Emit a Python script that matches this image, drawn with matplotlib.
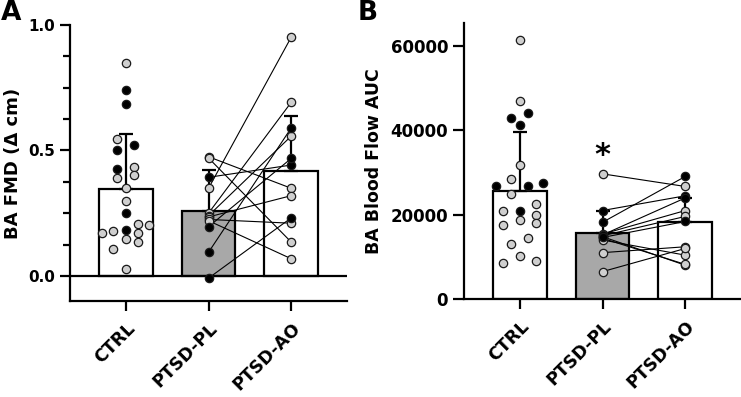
import numpy as np
import matplotlib.pyplot as plt
from matplotlib.ticker import MultipleLocator

plt.rcParams['font.family'] = 'DejaVu Sans'
plt.rcParams['font.weight'] = 'bold'

groups = ['CTRL', 'PTSD-PL', 'PTSD-AO']

# panel A: FMD
fmd_mean = [0.345, 0.258, 0.418]
fmd_sd = [0.220, 0.164, 0.219]
ctrl_fmd = [0.850, 0.741, 0.684, 0.545, 0.521, 0.502, 0.436, 0.425, 0.402, 0.389, 0.349, 0.299,
            0.250, 0.206, 0.202, 0.183, 0.179, 0.173, 0.170, 0.146, 0.137, 0.106, 0.027]
ctrl_fmd_black = [0, 1, 1, 0, 1, 1, 0, 1, 0, 0, 0, 0, 1, 0, 0, 1, 0, 0, 0, 0, 0, 0, 0]
ctrl_fmd_slot = [0, 0, 0, -1, 1, -1, 1, -1, 1, -1, 0, 0, 0, 1.4, 2.7, 0, -1.4, -2.7, 1.4, 0, 1.4, -1.4, 0]
pl_fmd = [0.475, 0.470, 0.393, 0.349, 0.250, 0.240, 0.235, 0.225, 0.220, 0.196, 0.094, -0.009]
ao_fmd = [0.349, 0.134, 0.442, 0.953, 0.693, 0.558, 0.320, 0.210, 0.068, 0.469, 0.591, 0.232]
pair_fmd_black = [0, 0, 1, 0, 0, 0, 0, 0, 0, 1, 1, 1]

# panel B: blood flow AUC
auc_mean = [25700, 15600, 18200]
auc_sd = [13900, 5400, 5800]
ctrl_auc = [61500, 46900, 44200, 42900, 41200, 31900, 28500, 27500, 26900, 26700, 24800, 22500,
            21000, 21000, 20000, 18800, 18000, 17500, 14400, 13100, 10200, 8900, 8500]
ctrl_auc_black = [0, 0, 1, 1, 1, 0, 0, 1, 1, 1, 0, 0, 0, 1, 0, 0, 0, 0, 0, 0, 0, 0, 0]
ctrl_auc_slot = [0, 0, 1, -1, 0, 0, -1, 2.8, -2.8, 1, -1, 2, -2, 0, 2, 0, 2, -2, 1, -1, 0, 2, -2]
pl_auc = [29700, 15400, 15000, 14800, 14400, 14000, 11000, 6500, 21000, 18200, 15200, 14600]
ao_auc = [26700, 21000, 19600, 8000, 8200, 10400, 12400, 12000, 24500, 29100, 24000, 18400]
pair_auc_black = [0, 0, 0, 0, 0, 0, 0, 0, 1, 1, 1, 1]

GRAY_PT = '#cfcfcf'
BAR_GRAY = '#a8a8a8'


def dot(ax, x, y, black):
    ax.plot(x, y, 'o', ms=6, mfc='black' if black else GRAY_PT, mec='#1a1a1a',
            mew=0.9, zorder=6, clip_on=False)


def panel(ax, means, sds, ctrl, ctrl_black, ctrl_slot, slot_w, pl, ao, pair_black):
    x = np.arange(3)
    ax.bar(x, means, width=0.65, color=['white', BAR_GRAY, 'white'], edgecolor='black',
           linewidth=1.6, zorder=2)
    ax.errorbar(x, means, yerr=[np.zeros(3), sds], fmt='none', ecolor='black',
                elinewidth=1.6, capsize=5, capthick=1.6, zorder=3)
    for v, b, s in zip(ctrl, ctrl_black, ctrl_slot):
        dot(ax, s * slot_w, v, b)
    for a, c in zip(pl, ao):
        ax.plot([1, 2], [a, c], color='black', lw=0.8, zorder=4)
    order = sorted(range(len(pl)), key=lambda i: pair_black[i])
    for i in order:
        dot(ax, 1, pl[i], pair_black[i])
        dot(ax, 2, ao[i], pair_black[i])
    ax.set_xlim(-0.67, 2.67)
    ax.set_xticks(x)
    ax.set_xticklabels(groups, rotation=45, ha='right', rotation_mode='anchor',
                       fontsize=12.5, fontweight='bold')
    for sp in ['top', 'right']:
        ax.spines[sp].set_visible(False)
    for sp in ['left', 'bottom']:
        ax.spines[sp].set_linewidth(1.6)
    ax.tick_params(axis='x', length=7, width=1.6, pad=6)
    ax.tick_params(axis='y', which='major', length=7, width=1.6)
    ax.tick_params(axis='y', which='minor', length=5, width=1.6)


fig = plt.figure(figsize=(7.41, 3.97), dpi=100)
axA = fig.add_axes([70 / 741, 1 - 301 / 397, 277 / 741, 276 / 397])
axB = fig.add_axes([464 / 741, 1 - 299 / 397, 277 / 741, 276 / 397])

panel(axA, fmd_mean, fmd_sd, ctrl_fmd, ctrl_fmd_black, ctrl_fmd_slot, 0.105,
      pl_fmd, ao_fmd, pair_fmd_black)
axA.set_ylim(-0.1, 1.0)
axA.axhline(0, color='black', lw=1.6, zorder=3)
axA.set_yticks([0, 0.5, 1.0])
axA.set_yticklabels(['0.0', '0.5', '1.0'], fontsize=11, fontweight='bold')
axA.yaxis.set_minor_locator(MultipleLocator(0.125))
axA.set_ylabel('BA FMD (Δ cm)', fontsize=13, fontweight='bold', labelpad=5)

panel(axB, auc_mean, auc_sd, ctrl_auc, ctrl_auc_black, ctrl_auc_slot, 0.1,
      pl_auc, ao_auc, pair_auc_black)
axB.set_ylim(0, 65500)
axB.set_yticks([0, 20000, 40000, 60000])
axB.set_yticklabels(['0', '20000', '40000', '60000'], fontsize=12, fontweight='bold')
axB.tick_params(axis='y', length=8)
axB.set_ylabel('BA Blood Flow AUC', fontsize=12.5, fontweight='bold', labelpad=5)
axB.text(1, 34000, '*', ha='center', va='center', fontsize=22, fontweight='bold')

fig.text(0.001, 0.999, 'A', fontsize=19, fontweight='bold', va='top', ha='left')
fig.text(358 / 741, 0.999, 'B', fontsize=19, fontweight='bold', va='top', ha='left')

fig.savefig('out.png', dpi=100)
